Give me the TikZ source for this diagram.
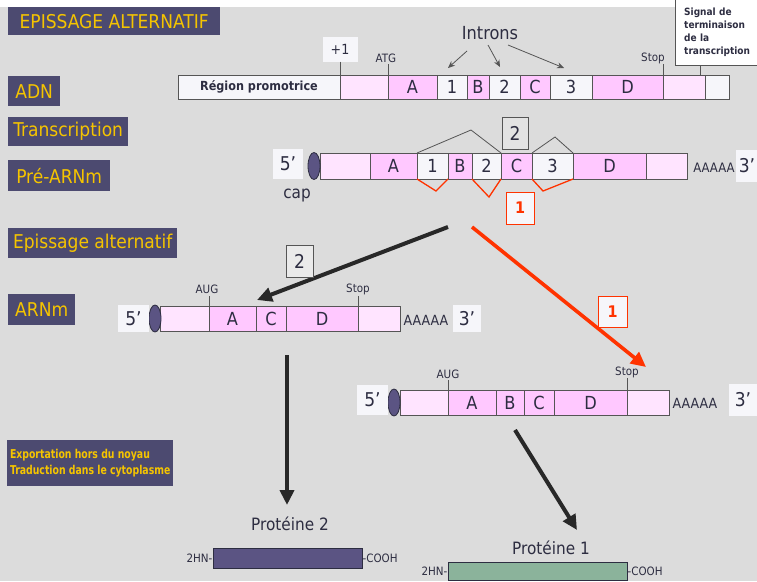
\documentclass[tikz,border=0pt]{standalone}
\usepackage{fontspec}
\setmainfont{DejaVu Sans Condensed}
\usetikzlibrary{arrows.meta,shapes.geometric}

\definecolor{fond}{RGB}{220,220,220}
\definecolor{ardoise}{RGB}{76,74,112}
\definecolor{jaune}{RGB}{245,196,0}
\definecolor{exon}{RGB}{255,200,255}
\definecolor{rose}{RGB}{255,228,255}
\definecolor{intron}{RGB}{246,246,250}
\definecolor{rouge}{RGB}{255,51,0}
\definecolor{violet}{RGB}{91,84,131}
\definecolor{vert}{RGB}{139,179,155}
\definecolor{trait}{RGB}{85,85,85}
\definecolor{encre}{RGB}{45,45,65}
\definecolor{noir}{RGB}{40,40,40}

\tikzset{
  etiquette/.style={fill=ardoise, text=jaune, anchor=north west, inner sep=0pt,
    font=\fontsize{19}{21}\selectfont},
  segment/.style={draw=trait, line width=0.8pt, inner sep=0pt, outer sep=0pt,
    text=encre, font=\fontsize{18}{20}\selectfont},
  coiffe/.style={ellipse, draw=encre, fill=violet, line width=0.8pt,
    minimum width=12pt, minimum height=27pt, inner sep=0pt},
  bout/.style={fill=intron, text=encre, inner sep=0pt, minimum width=30pt,
    minimum height=30pt, font=\fontsize{19}{21}\selectfont},
  polya/.style={text=encre, inner sep=0pt, font=\fontsize{13}{15}\selectfont},
  petit/.style={text=encre, inner sep=0pt, font=\fontsize{11.5}{13}\selectfont},
  repere/.style={draw=trait, line width=0.8pt},
  numero/.style={draw=trait, fill=fond!80!white, text=encre, inner sep=0pt,
    minimum width=26pt, minimum height=32pt, font=\fontsize{19}{21}\selectfont},
  numrouge/.style={draw=rouge, fill=intron, text=rouge, inner sep=0pt,
    minimum width=28pt, minimum height=32pt, font=\bfseries\fontsize{16}{18}\selectfont},
  fleche/.style={line width=4pt, draw=noir,
    -{Triangle[length=15pt,width=14pt]}},
  proteine/.style={draw=encre, line width=0.8pt, inner sep=0pt},
}

\begin{document}
\begin{tikzpicture}[x=1pt, y=-1pt]
  \useasboundingbox (0,0) rectangle (757,581);
  \fill[fond] (0,0) rectangle (757,581);
  \fill[white] (0,0) rectangle (757,7);

  % etiquettes a gauche
  \node[etiquette, minimum width=212pt, minimum height=28pt] (titre) at (8,7) {EPISSAGE ALTERNATIF};
  \node[etiquette, minimum width=52pt, minimum height=30pt] (adn) at (8,76) {ADN};
  \node[etiquette, minimum width=120pt, minimum height=29pt] (transcription) at (8,117) {Transcription};
  \node[etiquette, minimum width=102pt, minimum height=31pt] (prearnm) at (8,160) {Pré-ARNm};
  \node[etiquette, minimum width=169pt, minimum height=30pt] (epissage) at (8,228) {Epissage alternatif};
  \node[etiquette, minimum width=67pt, minimum height=31pt] (arnm) at (8,294) {ARNm};
  \node[etiquette, minimum width=166pt, minimum height=46pt, align=left,
    font=\bfseries\fontsize{12.2}{16}\selectfont] (export) at (7,440)
    {\scalebox{0.85}[1]{Exportation hors du noyau}\\\scalebox{0.85}[1]{Traduction dans le cytoplasme}};

  % ADN
  \foreach \n/\a/\b/\c/\t in {d0/340/388/rose/{}, dA/388/437/exon/A, d1/437/467/intron/1,
      dB/467/489/exon/B, d2/489/520/intron/2, dC/520/550/exon/C, d3/550/592/intron/3,
      dD/592/663/exon/D, dE/663/705/rose/{}, dF/705/729/intron/{}}
    \node[segment, fill=\c, minimum width={(\b-\a)*1pt}, minimum height=24pt] (\n) at ({(\a+\b)/2},87) {\t};
  \node[segment, fill=intron, minimum width=162pt, minimum height=24pt,
    font=\bfseries\fontsize{12.5}{14}\selectfont] (promo) at (259,87) {Région promotrice};

  \node[fill=intron, text=encre, inner sep=0pt, minimum width=35pt, minimum height=25pt,
    font=\fontsize{14}{16}\selectfont] (plus1) at (340,49) {+1};
  \draw[repere] (plus1.south) -- (d0.north west);
  \node[petit] (atg) at (386,58) {ATG};
  \draw[repere] (388,64) -- (dA.north west);
  \node[petit] (stopadn) at (653,58) {Stop};
  \draw[repere] (663,64) -- (dE.north west);
  \node[draw=trait, fill=white, text=encre, anchor=north west, align=left, inner sep=0pt,
    minimum width=86pt, minimum height=66pt, text width=80pt,
    font=\bfseries\fontsize{10}{13}\selectfont] (signal) at (675,-1)
    {\hspace*{6pt}Signal de\\\hspace*{6pt}terminaison\\\hspace*{6pt}de la\\\hspace*{6pt}transcription};
  \draw[repere] (700,65) -- (700,75);

  \node[text=encre, inner sep=0pt, font=\fontsize{18}{20}\selectfont] (introns) at (490,33) {Introns};
  \draw[trait, line width=0.8pt, -{Stealth[length=7pt,width=6pt]}] (467,51) -- (448,68);
  \draw[trait, line width=0.8pt, -{Stealth[length=7pt,width=6pt]}] (488,45) -- (500,67);
  \draw[trait, line width=0.8pt, -{Stealth[length=7pt,width=6pt]}] (508,45) -- (564,68);

  % pre-ARNm
  \foreach \n/\a/\b/\c/\t in {p0/320/370/rose/{}, pA/370/417/exon/A, p1/417/448/intron/1,
      pB/448/472/exon/B, p2/472/501/intron/2, pC/501/532/exon/C, p3/532/573/intron/3,
      pD/573/646/exon/D, pE/646/687/rose/{}}
    \node[segment, fill=\c, minimum width={(\b-\a)*1pt}, minimum height=26pt] (\n) at ({(\a+\b)/2},166) {\t};
  \node[coiffe] (cap0) at (314,166) {};
  \node[bout] (cinq0) at (288,164) {5’};
  \node[text=encre, inner sep=0pt, font=\fontsize{17}{19}\selectfont] (cap) at (297,196) {cap};
  \node[polya] (poly0) at (714,168) {AAAAA};
  \fill[intron] (736,150) rectangle (757,182);
  \node[text=encre, inner sep=0pt, font=\fontsize{19}{21}\selectfont] (trois0) at (747,166) {3’};

  \draw[trait, line width=0.8pt] (p1.north west) -- (471,130) -- (p2.north east);
  \draw[trait, line width=0.8pt] (p3.north west) -- (555,137) -- (p3.north east);
  \draw[rouge, line width=1.3pt] (p1.south west) -- (436,191) -- (p1.south east);
  \draw[rouge, line width=1.3pt] (p2.south west) -- (489,197) -- (p2.south east);
  \draw[rouge, line width=1.3pt] (p3.south west) -- (543,191) -- (p3.south east);
  \node[numero] (deux0) at (515,133.5) {2};
  \node[numrouge] (un0) at (520,208) {1};

  % ARNm 2
  \foreach \n/\a/\b/\c/\t in {m0/160/209/rose/{}, mA/209/256/exon/A, mC/256/286/exon/C,
      mD/286/358/exon/D, mE/358/400/rose/{}}
    \node[segment, fill=\c, minimum width={(\b-\a)*1pt}, minimum height=25pt] (\n) at ({(\a+\b)/2},318.5) {\t};
  \node[coiffe] (cap2) at (155,318.5) {};
  \node[bout, minimum width=31pt, minimum height=27pt] (cinq2) at (133.5,318.5) {5’};
  \node[polya, font=\fontsize{14}{16}\selectfont] (poly2) at (426,320) {AAAAA};
  \node[bout, minimum width=28pt, minimum height=27pt] (trois2) at (467,318.5) {3’};
  \node[petit] (aug2) at (207,289) {AUG};
  \draw[repere] (209,296) -- (mA.north west);
  \node[petit] (stop2) at (358,289) {Stop};
  \draw[repere] (358,296) -- (mE.north west);

  % ARNm 1
  \foreach \n/\a/\b/\c/\t in {n0/400/448/rose/{}, nA/448/496/exon/A, nB/496/524/exon/B,
      nC/524/554/exon/C, nD/554/627/exon/D, nE/627/669/rose/{}}
    \node[segment, fill=\c, minimum width={(\b-\a)*1pt}, minimum height=25pt] (\n) at ({(\a+\b)/2},402.5) {\t};
  \node[coiffe] (cap1) at (394,402.5) {};
  \node[bout, minimum width=31pt] (cinq1) at (372.5,400) {5’};
  \node[polya, font=\fontsize{14}{16}\selectfont] (poly1) at (695,403) {AAAAA};
  \node[bout, minimum width=28pt, minimum height=32pt] (trois1) at (743,400) {3’};
  \node[petit] (aug1) at (448,374) {AUG};
  \draw[repere] (448,380) -- (nA.north west);
  \node[petit] (stop1) at (627,372) {Stop};
  \draw[repere] (627,378) -- (nE.north west);

  % fleches d'epissage
  \coordinate (depart2) at (448,227);
  \coordinate (arrivee2) at (257,300);
  \coordinate (depart1) at (472,227);
  \coordinate (arrivee1) at (646,367);
  \draw[fleche] (depart2) -- (arrivee2);
  \draw[fleche, draw=rouge, line width=3.6pt] (depart1) -- (arrivee1);
  \node[numero, fill=fond!60!white, minimum width=27pt] (deux1) at (299.5,261) {2};
  \node[numrouge, minimum width=29pt, minimum height=31pt] (un1) at (612.5,311.5) {1};

  % proteines
  \coordinate (bas2) at (287,355);
  \coordinate (bas1) at (515,430);
  \node[proteine, fill=violet, minimum width=149pt, minimum height=20pt] (prot2) at (287.5,558) {};
  \node[proteine, fill=vert, minimum width=179pt, minimum height=18pt] (prot1) at (537.5,571) {};
  \node[text=encre, inner sep=0pt, font=\fontsize{17}{19}\selectfont] (nom2) at (290,524) {Protéine 2};
  \node[text=encre, inner sep=0pt, font=\fontsize{17}{19}\selectfont] (nom1) at (551,548) {Protéine 1};
  \draw[fleche] (bas2) -- (287,505);
  \draw[fleche] (bas1) -- (577,530);
  \node[petit, anchor=east] (nh2) at (prot2.west) {2HN-};
  \node[petit, anchor=west] (cooh2) at (prot2.east) {-COOH};
  \node[petit, anchor=east] (nh1) at (prot1.west) {2HN-};
  \node[petit, anchor=west] (cooh1) at (prot1.east) {-COOH};
\end{tikzpicture}
\end{document}
